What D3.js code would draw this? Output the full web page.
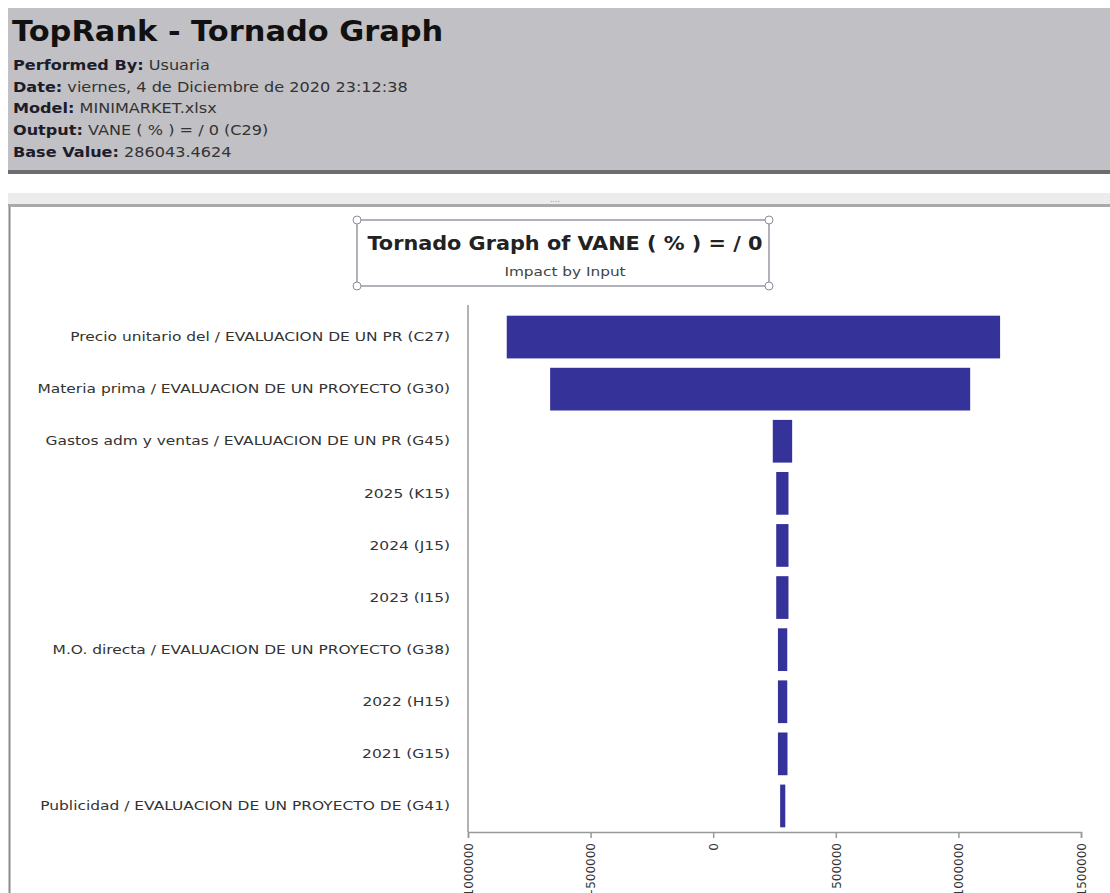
<!DOCTYPE html>
<html>
<head>
<meta charset="utf-8">
<script src="https://cdn.jsdelivr.net/npm/d3@7"></script>
<style>
  body { margin: 0; background: #fff; }
  svg { display: block; }
</style>
</head>
<body>
<script>
// chart data
var inputs = [
  "Precio unitario del / EVALUACION DE UN PR (C27)",
  "Materia prima / EVALUACION DE UN PROYECTO (G30)",
  "Gastos adm y ventas / EVALUACION DE UN PR (G45)",
  "2025 (K15)",
  "2024 (J15)",
  "2023 (I15)",
  "M.O. directa / EVALUACION DE UN PROYECTO  (G38)",
  "2022 (H15)",
  "2021 (G15)",
  "Publicidad / EVALUACION DE UN PROYECTO DE (G41)"
];
var lowValues = [-842000, -665000, 243000, 257000, 257000, 257000, 264000, 264000, 264000, 273000];
var highValues = [1170000, 1048000, 322000, 307000, 307000, 307000, 302000, 302000, 303000, 294000];
var xTicks = [-1000000, -500000, 0, 500000, 1000000, 1500000];

var headerRows = [
  ["Performed By:", " Usuaria"],
  ["Date:", " viernes, 4 de Diciembre de 2020 23:12:38"],
  ["Model:", " MINIMARKET.xlsx"],
  ["Output:", " VANE  ( % ) = / 0 (C29)"],
  ["Base Value:", " 286043.4624"]
];

var W = 1110, H = 893;
var svg = d3.select("body").append("svg").attr("width", W).attr("height", H);

// the screenshot is a bit wider than the fonts, so stretch text around its x anchor
function hstretch(sel, k) {
  sel.attr("transform", function() {
    var x0 = +d3.select(this).attr("x") || 0;
    return "translate(" + x0 + ",0) scale(" + k + ",1) translate(" + (-x0) + ",0)";
  });
}

// header block
svg.append("rect").attr("x", 8).attr("y", 8).attr("width", W - 8).attr("height", 163).attr("fill", "#c1c0c4");
svg.append("rect").attr("x", 8).attr("y", 170).attr("width", W - 8).attr("height", 4).attr("fill", "#6d6d70");

svg.append("text").attr("x", 12).attr("y", 41)
  .style("font-family", "DejaVu Sans").style("font-weight", "bold").style("font-size", "29px")
  .attr("fill", "#111").text("TopRank - Tornado Graph")
  .call(hstretch, 1.05);

var hdr = svg.append("g").style("font-family", "DejaVu Sans").style("font-size", "14px");
headerRows.forEach(function(r, i) {
  var t = hdr.append("text").attr("x", 13).attr("y", 70 + i * 21.7);
  t.append("tspan").style("font-weight", "bold").attr("fill", "#1c1c2a").text(r[0]);
  t.append("tspan").attr("fill", "#333").text(r[1]);
  t.call(hstretch, 1.15);
});

// splitter bar
svg.append("rect").attr("x", 8).attr("y", 193).attr("width", W - 8).attr("height", 13).attr("fill", "#ececec");
svg.append("rect").attr("x", 8).attr("y", 204).attr("width", W - 8).attr("height", 3).attr("fill", "#a9a9a9");
svg.append("text").attr("x", 555).attr("y", 202).attr("text-anchor", "middle")
  .style("font-family", "DejaVu Sans").style("font-size", "8px").attr("fill", "#999").text("....");
svg.append("line").attr("x1", 9.5).attr("x2", 9.5).attr("y1", 207).attr("y2", H)
  .attr("stroke", "#8a8a8a").attr("stroke-width", 2);

// title box
var box = { x: 357, y: 220, w: 412, h: 66 };
svg.append("rect").attr("x", box.x).attr("y", box.y).attr("width", box.w).attr("height", box.h)
  .attr("fill", "none").attr("stroke", "#7a7f8a").attr("stroke-width", 1.2);
[[box.x, box.y], [box.x + box.w, box.y], [box.x, box.y + box.h], [box.x + box.w, box.y + box.h]].forEach(function(p) {
  svg.append("circle").attr("cx", p[0]).attr("cy", p[1]).attr("r", 4)
    .attr("fill", "#fff").attr("stroke", "#8a9099").attr("stroke-width", 1);
});
svg.append("text").attr("x", 565).attr("y", 250).attr("text-anchor", "middle")
  .style("font-family", "DejaVu Sans").style("font-weight", "bold").style("font-size", "20px")
  .attr("fill", "#222").text("Tornado Graph of VANE  ( % ) = / 0")
  .call(hstretch, 1.04);
svg.append("text").attr("x", 565).attr("y", 276).attr("text-anchor", "middle")
  .style("font-family", "DejaVu Sans").style("font-size", "13px")
  .attr("fill", "#444").text("Impact by Input")
  .call(hstretch, 1.18);

// plot
var x = d3.scaleLinear().domain([-1000000, 1500000]).range([468, 1081]);
var y = d3.scaleBand().domain(inputs).range([311, 832]).paddingInner(0.18).paddingOuter(0.09);

svg.selectAll(".bar")
  .data(inputs)
  .enter()
  .append("rect")
  .attr("class", "bar")
  .attr("x", function(d, i) { return x(lowValues[i]); })
  .attr("width", function(d, i) { return x(highValues[i]) - x(lowValues[i]); })
  .attr("y", function(d) { return y(d); })
  .attr("height", y.bandwidth())
  .attr("fill", "#35329a");

var yAxis = svg.append("g")
  .attr("transform", "translate(468,0)")
  .call(d3.axisLeft(y).tickSize(0).tickPadding(18));
yAxis.select(".domain").remove();
yAxis.selectAll("text")
  .style("font-family", "DejaVu Sans").style("font-size", "13px").attr("fill", "#333")
  .call(hstretch, 1.19);

svg.append("line").attr("x1", 468).attr("x2", 468).attr("y1", 305).attr("y2", 832)
  .attr("stroke", "#999").attr("stroke-width", 1.5);

var xAxis = svg.append("g")
  .attr("transform", "translate(0,832)")
  .call(d3.axisBottom(x).tickValues(xTicks).tickFormat(d3.format("d")).tickSizeOuter(0).tickSize(6));
xAxis.select(".domain").attr("stroke", "#999").attr("stroke-width", 1.5);
xAxis.selectAll(".tick line").attr("stroke", "#999").attr("stroke-width", 1.5);
xAxis.selectAll("text")
  .style("font-family", "DejaVu Sans").style("font-size", "12px").attr("fill", "#333")
  .attr("transform", "rotate(-90)")
  .attr("text-anchor", "end")
  .attr("x", -11).attr("y", 0).attr("dy", "0.35em");
</script>
</body>
</html>
